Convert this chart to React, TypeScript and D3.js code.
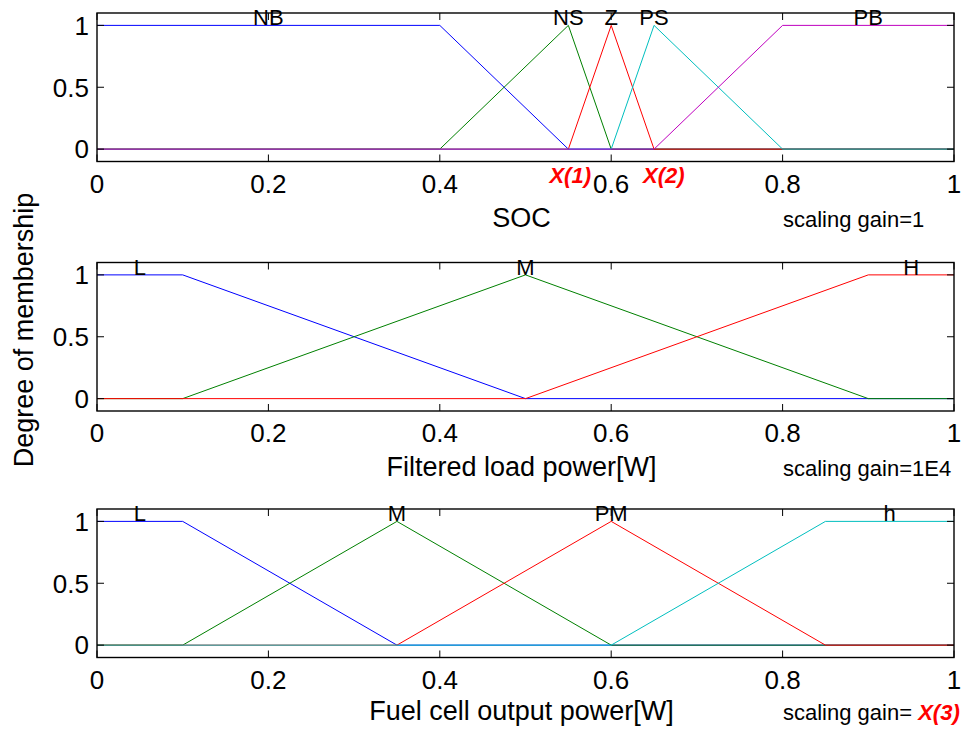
import React from "react";
import * as d3 from "d3";

// Membership functions, given as trapezoid / triangle parameters on a [0, 1] universe.
const socNames = ["NB", "NS", "Z", "PS", "PB"];
const socParams = [
  [0, 0, 0.4, 0.55],
  [0.4, 0.55, 0.6],
  [0.55, 0.6, 0.65],
  [0.6, 0.65, 0.8],
  [0.65, 0.8, 1, 1],
];

const loadNames = ["L", "M", "H"];
const loadParams = [
  [0, 0, 0.1, 0.5],
  [0.1, 0.5, 0.9],
  [0.5, 0.9, 1, 1],
];

const fcNames = ["L", "M", "PM", "h"];
const fcParams = [
  [0, 0, 0.1, 0.35],
  [0.1, 0.35, 0.6],
  [0.35, 0.6, 0.85],
  [0.6, 0.85, 1, 1],
];

const xTicks = [0, 0.2, 0.4, 0.6, 0.8, 1];
const yTicks = [0, 0.5, 1];
const axisLabels = ["SOC", "Filtered load power[W]", "Fuel cell output power[W]"];
const gainLabels = ["scaling gain=1", "scaling gain=1E4", "scaling gain= "];

const mfColors = ["#0000ff", "#008000", "#ff0000", "#00bfbf", "#bf00bf"];
const FONT = "'Liberation Sans', Arial, Helvetica, sans-serif";

function trap(p: number[]) {
  const [a, b, c, d] = p.length === 3 ? [p[0], p[1], p[1], p[2]] : p;
  return (x: number) => {
    const up = b === a ? (x >= a ? 1 : 0) : (x - a) / (b - a);
    const down = d === c ? (x <= d ? 1 : 0) : (d - x) / (d - c);
    return Math.max(0, Math.min(1, up, down));
  };
}

function peakOf(p: number[]) {
  return p.length === 3 ? p[1] : (p[1] + p[2]) / 2;
}

const left = 97;
const right = 954;
const panelH = 148.5;

type PanelProps = {
  top: number;
  names: string[];
  params: number[][];
  xlabel: string;
  gain: string;
  gainExtra?: string;
  markers?: { text: string; x: number; anchor: string }[];
  labelOffset: number;
};

function Panel({ top, names, params, xlabel, gain, gainExtra, markers, labelOffset }: PanelProps) {
  const x = d3.scaleLinear().domain([0, 1]).range([left, right]);
  const y = d3.scaleLinear().domain([-0.1, 1.1]).range([top + panelH, top]);
  const bottom = top + panelH;
  const line = d3
    .line<[number, number]>()
    .x((d) => x(d[0]))
    .y((d) => y(d[1]));

  const curves = params.map((p) => {
    const f = trap(p);
    const xs = Array.from(new Set([0, ...p, 1].filter((v) => v >= 0 && v <= 1))).sort((m, n) => m - n);
    const pts: [number, number][] = [];
    xs.forEach((v, i) => {
      // keep step edges (a === b at the domain ends) exact
      pts.push([v, f(v)]);
    });
    return pts;
  });

  const tickLen = 7;
  return (
    <g>
      {curves.map((pts, i) => (
        <path key={i} d={line(pts) ?? ""} fill="none" stroke={mfColors[i]} strokeWidth={1} />
      ))}
      <rect x={left} y={top} width={right - left} height={panelH} fill="none" stroke="#000" strokeWidth={1.4} />
      {xTicks.map((t) => (
        <g key={"x" + t}>
          <line x1={x(t)} x2={x(t)} y1={bottom} y2={bottom - tickLen} stroke="#000" strokeWidth={1} />
          <line x1={x(t)} x2={x(t)} y1={top} y2={top + tickLen} stroke="#000" strokeWidth={1} />
          <text x={x(t)} y={bottom + 31} textAnchor="middle" fontSize={26} fontFamily={FONT}>
            {d3.format("~g")(t)}
          </text>
        </g>
      ))}
      {yTicks.map((t) => (
        <g key={"y" + t}>
          <line x1={left} x2={left + tickLen} y1={y(t)} y2={y(t)} stroke="#000" strokeWidth={1} />
          <line x1={right} x2={right - tickLen} y1={y(t)} y2={y(t)} stroke="#000" strokeWidth={1} />
          <text x={left - 8} y={y(t)} dy="0.36em" textAnchor="end" fontSize={26} fontFamily={FONT}>
            {d3.format("~g")(t)}
          </text>
        </g>
      ))}
      {names.map((n, i) => (
        <text key={n} x={x(peakOf(params[i]))} y={y(1)} textAnchor="middle" fontSize={22} fontFamily={FONT}>
          {n}
        </text>
      ))}
      <text x={(left + right) / 2 - 4} y={bottom + labelOffset} textAnchor="middle" fontSize={27} fontFamily={FONT}>
        {xlabel}
      </text>
      <text x={783} y={bottom + labelOffset} fontSize={22} fontFamily={FONT}>
        {gain}
        {gainExtra && (
          <tspan fill="#ff0000" fontWeight="bold" fontStyle="italic">
            {gainExtra}
          </tspan>
        )}
      </text>
      {markers?.map((m) => (
        <text
          key={m.text}
          x={m.x}
          y={bottom + 21}
          textAnchor={m.anchor}
          fill="#ff0000"
          fontWeight="bold"
          fontStyle="italic"
          fontSize={22}
          fontFamily={FONT}
        >
          {m.text}
        </text>
      ))}
    </g>
  );
}

export default function App() {
  return (
    <svg
      width={975}
      height={733}
      style={{ position: "absolute", left: 0, top: 0, background: "#fff" }}
    >
      <rect width={975} height={733} fill="#fff" />
      <Panel
        top={13}
        names={socNames}
        params={socParams}
        xlabel={axisLabels[0]}
        gain={gainLabels[0]}
        labelOffset={65}
        markers={[
          { text: "X(1)", x: 591, anchor: "end" },
          { text: "X(2)", x: 643, anchor: "start" },
        ]}
      />
      <Panel
        top={262.5}
        names={loadNames}
        params={loadParams}
        xlabel={axisLabels[1]}
        gain={gainLabels[1]}
        labelOffset={65}
      />
      <Panel
        top={509}
        names={fcNames}
        params={fcParams}
        xlabel={axisLabels[2]}
        gain={gainLabels[2]}
        gainExtra="X(3)"
        labelOffset={62}
      />
      <text
        transform="translate(33,330) rotate(-90)"
        textAnchor="middle"
        fontSize={27}
        fontFamily={FONT}
      >
        Degree of membership
      </text>
    </svg>
  );
}
